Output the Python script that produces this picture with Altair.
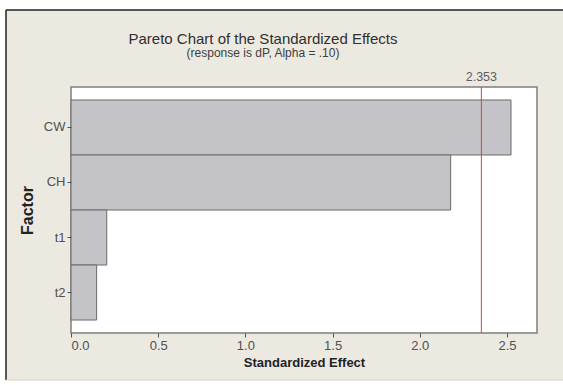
import altair as alt
import pandas as pd

# Standardized effects for each factor (Pareto order)
factors = ["CW", "CH", "t1", "t2"]
effects = [2.523, 2.177, 0.205, 0.147]
critical_value = 2.353
x_ticks = [0.0, 0.5, 1.0, 1.5, 2.0, 2.5]
x_max = 2.672

W, H = 466, 246
FONT = "Liberation Sans"
PANEL = "#ECE9E1"

effects_df = pd.DataFrame({"Factor": factors, "Effect": effects})
crit_df = pd.DataFrame({"crit": [critical_value], "label": [f"{critical_value:.3f}"]})
one = pd.DataFrame({"k": [0]})

x_scale = alt.Scale(domain=[0, x_max], nice=False, zero=True)
y_scale = alt.Scale(domain=factors, paddingInner=0, paddingOuter=0.236)

# beige window panel behind everything, with dark top/left edges
panel = alt.Chart(one).mark_rect(fill=PANEL).encode(
    x=alt.value(-65), x2=alt.value(W + 40), y=alt.value(-77), y2=alt.value(H + 47)
)
edge_left = alt.Chart(one).mark_rule(color="#222222", strokeWidth=1.5).encode(
    x=alt.value(-65), y=alt.value(-77), y2=alt.value(H + 47)
)
edge_top = alt.Chart(one).mark_rule(color="#222222", strokeWidth=1.5).encode(
    x=alt.value(-65), x2=alt.value(W + 40), y=alt.value(-77)
)
edge_bottom = alt.Chart(one).mark_rule(color="#D6D2C8", strokeWidth=1).encode(
    x=alt.value(-65), x2=alt.value(W + 40), y=alt.value(H + 47)
)

# white plotting box with grey frame
plot_box = alt.Chart(one).mark_rect(fill="white", stroke="#7F7F7F", strokeWidth=1.5).encode(
    x=alt.value(0), x2=alt.value(W), y=alt.value(0), y2=alt.value(H)
)

bars = alt.Chart(effects_df).mark_bar(
    fill="#C3C3C8", stroke="#6B6B6B", strokeWidth=1
).encode(
    x=alt.X(
        "Effect:Q",
        scale=x_scale,
        axis=alt.Axis(
            values=x_ticks, format=".1f", title="Standardized Effect",
            titlePadding=4, zindex=1,
        ),
    ),
    y=alt.Y(
        "Factor:N",
        scale=y_scale,
        axis=alt.Axis(title="Factor", titlePadding=8, titleFontSize=16, zindex=1),
    ),
)

crit_rule = alt.Chart(crit_df).mark_rule(color="#E0403C", strokeWidth=1).encode(
    x=alt.X("crit:Q", scale=x_scale), y=alt.value(0), y2=alt.value(H)
)
crit_label = alt.Chart(crit_df).mark_text(
    font=FONT, fontSize=12.5, color="#5E5E5E", baseline="bottom", dy=-3
).encode(
    x=alt.X("crit:Q", scale=x_scale), y=alt.value(0), text="label:N"
)

chart = alt.layer(
    panel, edge_left, edge_top, edge_bottom, plot_box, bars, crit_rule, crit_label
).properties(
    width=W,
    height=H,
    autosize=alt.AutoSizeParams(type="none"),
    padding={"left": 71, "top": 87, "right": 26, "bottom": 52},
    background="white",
    title=alt.TitleParams(
        text="Pareto Chart of the Standardized Effects",
        subtitle="(response is dP, Alpha = .10)",
        font=FONT, fontSize=15, fontWeight="normal", color="#303030",
        subtitleFont=FONT, subtitleFontSize=12, subtitleColor="#404040",
        subtitlePadding=1, anchor="middle", dx=-41, offset=-50,
    ),
).configure_view(
    strokeWidth=0
).configure_axis(
    labelFont=FONT, labelFontSize=13, labelColor="#505050",
    tickColor="#505050", tickSize=4, labelPadding=2,
    domain=False, grid=False,
    titleFont=FONT, titleFontSize=13, titleFontWeight="bold", titleColor="#222222",
)

chart.save("out.html", embed_options={"renderer": "svg", "actions": False})
